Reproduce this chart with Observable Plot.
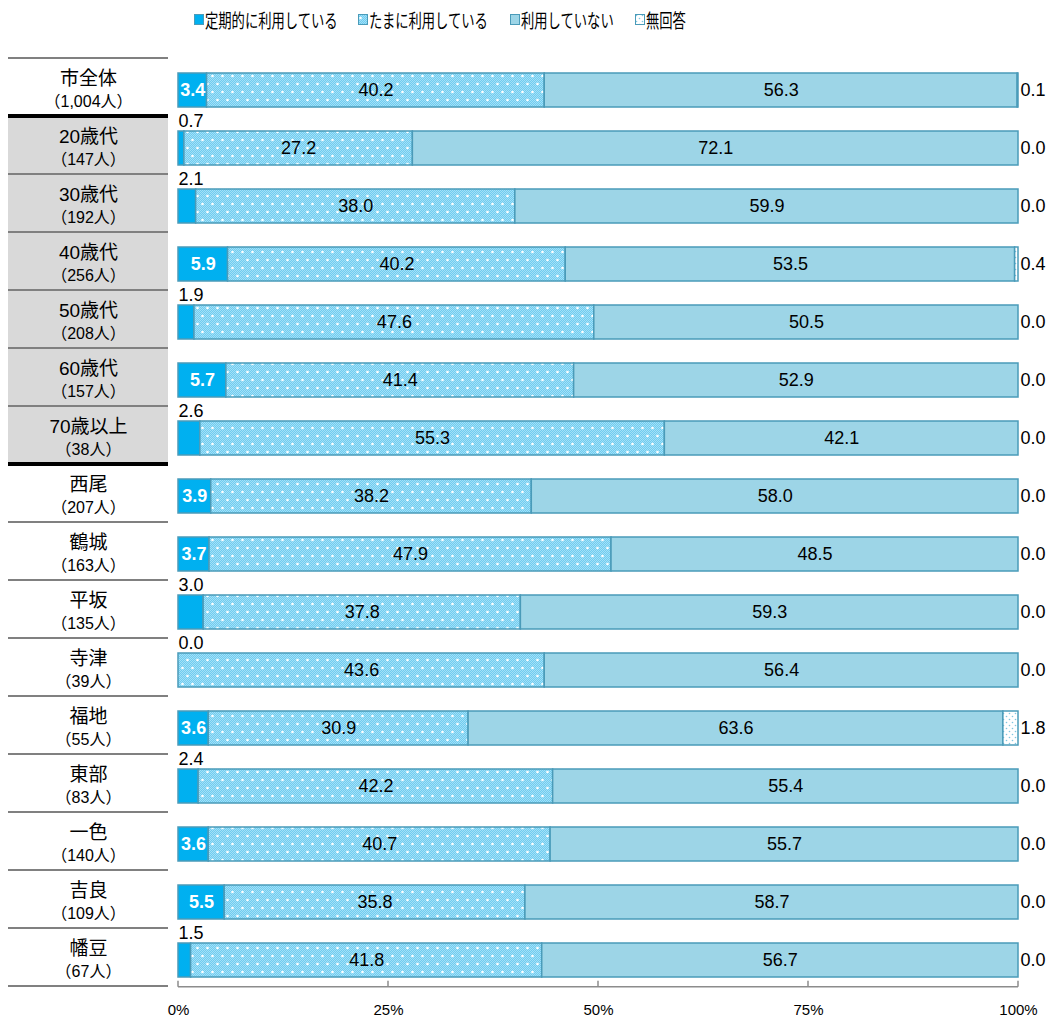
<!DOCTYPE html>
<html><head><meta charset="utf-8">
<script src="https://cdn.jsdelivr.net/npm/d3@7"></script>
<script src="https://cdn.jsdelivr.net/npm/@observablehq/plot@0.6"></script>
<style>
body{margin:0;background:#fff;font-family:"Liberation Sans","Noto Sans CJK JP",sans-serif;}
#legend{position:relative;height:40px;width:1052px;font-family:"Noto Sans CJK JP",sans-serif;font-size:19px;color:#000;}
.item{position:absolute;top:6px;display:flex;align-items:center;white-space:nowrap;}
.item svg{margin-right:1px;}
.item span{display:inline-block;transform:scaleX(0.7);transform-origin:0 50%;}
</style></head>
<body>
<svg width="0" height="0" style="position:absolute">
<defs id="pdefs"></defs>
</svg>
<div id="legend"></div>
<div id="chart"></div>
<script>
const seriesNames = ["定期的に利用している","たまに利用している","利用していない","無回答"];
const names = ["市全体","20歳代","30歳代","40歳代","50歳代","60歳代","70歳以上","西尾","鶴城","平坂","寺津","福地","東部","一色","吉良","幡豆"];
const counts = ["（1,004人）","（147人）","（192人）","（256人）","（208人）","（157人）","（38人）","（207人）","（163人）","（135人）","（39人）","（55人）","（83人）","（140人）","（109人）","（67人）"];
const regular   = [3.4,0.7,2.1,5.9,1.9,5.7,2.6,3.9,3.7,3.0,0.0,3.6,2.4,3.6,5.5,1.5];
const sometimes = [40.2,27.2,38.0,40.2,47.6,41.4,55.3,38.2,47.9,37.8,43.6,30.9,42.2,40.7,35.8,41.8];
const notUsing  = [56.3,72.1,59.9,53.5,50.5,52.9,42.1,58.0,48.5,59.3,56.4,63.6,55.4,55.7,58.7,56.7];
const noAnswer  = [0.1,0.0,0.0,0.4,0.0,0.0,0.0,0.0,0.0,0.0,0.0,1.8,0.0,0.0,0.0,0.0];
const xTicks = [0,0.25,0.5,0.75,1];

// patterns
(function(){
  let s = '<pattern id="p2" width="10" height="16" patternUnits="userSpaceOnUse"><rect width="10" height="16" fill="#6fccf0"/>';
  for (let i=0;i<10;i++) for (let j=0;j<16;j++) if ((i+j)%2===0) s += `<rect x="${i}" y="${j}" width="1" height="1" fill="#a3e0f7"/>`;
  s += '<circle cx="2.5" cy="4" r="1.3" fill="#fff"/><circle cx="7.5" cy="12" r="1.3" fill="#fff"/></pattern>';
  const t = '<pattern id="p4" width="6" height="6" patternUnits="userSpaceOnUse"><rect width="6" height="6" fill="#fff"/><circle cx="1.5" cy="1.5" r="0.8" fill="#7fc6e0"/><circle cx="4.5" cy="4.5" r="0.8" fill="#7fc6e0"/></pattern>';
  document.getElementById("pdefs").innerHTML = s + t;
})();

const fills = ["#00b0f0","url(#p2)","#9dd5e7","url(#p4)"];
const strokeC = "#4a9bb9";

// legend
const legendX = [194,358,510,635];
const leg = document.getElementById("legend");
seriesNames.forEach((n,k)=>{
  const it = document.createElement("div");
  it.className="item"; it.style.left = legendX[k]+"px";
  it.innerHTML = `<svg width="10" height="11"><rect x="0.5" y="0.5" width="9" height="10" fill="${fills[k]}" stroke="${strokeC}" stroke-width="1"/></svg><span>${n}</span>`;
  leg.appendChild(it);
});

const data = names.flatMap((n,i)=>[regular[i],sometimes[i],notUsing[i],noAnswer[i]].map((v,k)=>({name:n, series:seriesNames[k], value:v})));
const firstRows = names.map((n,i)=>({name:n, value:regular[i]}));
const lastRows = names.map((n,i)=>({name:n, value:noAnswer[i]}));
const tableRows = names.map((n,i)=>({name:n, count:counts[i]}));
const fmt = v => v.toFixed(1);
const INSIDE = 3.3;

const chart = Plot.plot({
  width:1052, height:982,
  marginTop:18, marginBottom:31, marginLeft:178, marginRight:34,
  style:{fontFamily:'"Liberation Sans","Noto Sans CJK JP",sans-serif', fontSize:"17px", color:"#000", background:"#fff"},
  x:{domain:[0,1], label:null},
  y:{domain:names, type:"band", paddingInner:0.417, paddingOuter:0.2085, axis:null},
  color:{domain:seriesNames, range:fills},
  marks:[
    Plot.barX(data, Plot.stackX({x:"value", y:"name", fill:"series", offset:"normalize", stroke:strokeC, strokeWidth:1.5})),
    Plot.text(data, Plot.stackX({x:"value", y:"name", z:"series", offset:"normalize",
      text: d => (d.series===seriesNames[1]||d.series===seriesNames[2]) ? fmt(d.value) : "",
      fill:"#000", fontSize:18})),
    Plot.text(data, Plot.stackX({x:"value", y:"name", z:"series", offset:"normalize",
      text: d => (d.series===seriesNames[0] && d.value>=INSIDE) ? fmt(d.value) : "",
      fill:"#fff", fontWeight:"bold", fontSize:18})),
    Plot.text(firstRows.filter(d=>d.value<INSIDE), {y:"name", text:d=>fmt(d.value), frameAnchor:"left", textAnchor:"start", dy:-27.5, fill:"#000", fontSize:18}),
    Plot.text(lastRows, {y:"name", text:d=>fmt(d.value), frameAnchor:"right", textAnchor:"start", dx:2, fill:"#000", fontSize:18}),
    Plot.text(tableRows, {y:"name", text:"name", frameAnchor:"left", textAnchor:"middle", dx:-90, dy:-11.5, fill:"#000", fontSize:19}),
    Plot.text(tableRows, {y:"name", text:"count", frameAnchor:"left", textAnchor:"middle", dx:-90, dy:11, fill:"#000", fontSize:16}),
    Plot.axisX({ticks:xTicks, tickFormat:d3.format(".0%"), tickSize:0, tickPadding:13, fontSize:15, fill:"#000", label:null})
  ]
});
document.getElementById("chart").appendChild(chart);

// table decorations and axis line through Plot's scales
const ys = chart.scale("y"), xs = chart.scale("x");
const step = ys.step, bw = ys.bandwidth;
const cellTop = n => ys.apply(n) - (step - bw)/2 - 3;
const svg = d3.select(chart);
const g = svg.insert("g", "g");
[1,2,3,4,5,6].forEach(i=>{
  g.append("rect").attr("x",8).attr("width",160).attr("y",cellTop(names[i])).attr("height",step).attr("fill","#d9d9d9");
});
for (let i=0;i<=names.length;i++){
  const yy = cellTop(names[0]) + i*step;
  const thick = (i===1||i===7);
  g.append("line").attr("x1",8).attr("x2",168).attr("y1",yy).attr("y2",yy)
    .attr("stroke", thick?"#000":"#808080").attr("stroke-width", thick?4:2);
}
const base = ys.range[1] - 4.3;
const ga = svg.append("g").attr("stroke","#8c8c8c").attr("stroke-width",1.5);
ga.append("line").attr("x1",xs.apply(0)).attr("x2",xs.apply(1)).attr("y1",base).attr("y2",base);
xTicks.forEach(t=>ga.append("line").attr("x1",xs.apply(t)).attr("x2",xs.apply(t)).attr("y1",base).attr("y2",base-6));
</script>
</body></html>
